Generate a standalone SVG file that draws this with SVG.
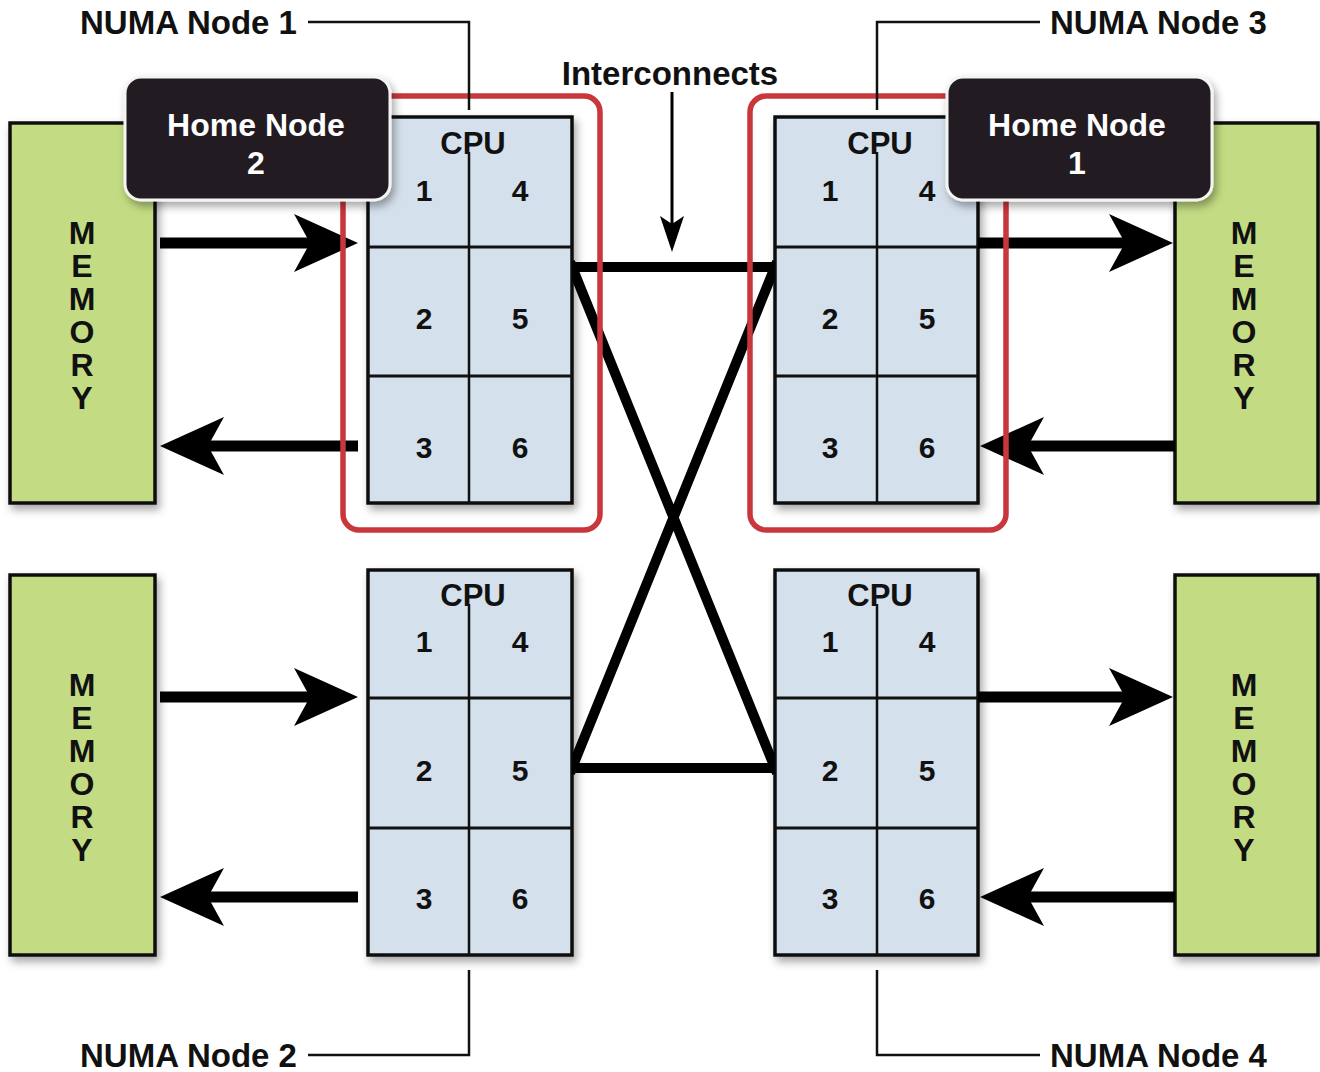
<svg xmlns="http://www.w3.org/2000/svg" width="1320" height="1072" viewBox="0 0 1320 1072">
  <defs>
    <filter id="shadow" x="-10%" y="-10%" width="130%" height="130%">
      <feDropShadow dx="3" dy="5" stdDeviation="4" flood-color="#000" flood-opacity="0.35"/>
    </filter>
    <marker id="bigHead" viewBox="0 0 64 58" refX="44" refY="29" markerWidth="64" markerHeight="58" markerUnits="userSpaceOnUse" orient="auto">
      <path d="M0,0 L64,29 L0,58 L16,29 Z" fill="#000"/>
    </marker>
    <marker id="smallHead" viewBox="0 0 36 24" refX="30" refY="12" markerWidth="36" markerHeight="24" markerUnits="userSpaceOnUse" orient="auto">
      <path d="M0,0 L36,12 L0,24 L8,12 Z" fill="#000"/>
    </marker>
    <!-- keeps the interconnect bundle between the two socket columns -->
    <clipPath id="betweenSockets">
      <rect x="572" y="200" width="203" height="640"/>
    </clipPath>
  </defs>
  <style>
    text { font-family: "Liberation Sans", Arial, sans-serif; font-weight: bold; fill: #111; }
    .mem { fill: #c3dc83; stroke: #111; stroke-width: 3.5; filter: url(#shadow); }
    .cpu { fill: #d4e0ec; stroke: #111; stroke-width: 3.5; filter: url(#shadow); }
    .div { stroke: #111; stroke-width: 3; fill: none; }
    .vdiv { stroke: #111; stroke-width: 2.5; fill: none; }
    .memtxt { font-size: 32px; text-anchor: middle; }
    .cputxt { font-size: 31px; text-anchor: middle; }
    .num { font-size: 30px; text-anchor: middle; }
    .flow { stroke: #000; stroke-width: 11; fill: none; marker-end: url(#bigHead); }
    .link { stroke: #000; stroke-width: 10; fill: none; }
    .home { fill: #231f20; stroke: #f4f4f4; stroke-width: 3; filter: url(#shadow); }
    .hometxt { font-size: 32px; fill: #fff; text-anchor: middle; }
    .region { fill: none; stroke: #c9363b; stroke-width: 5.5; }
    .callout { stroke: #111; stroke-width: 2.5; fill: none; }
    .label { font-size: 33px; }
  </style>

  <rect width="1320" height="1072" fill="#fff"/>

  <!-- Memory banks -->
  <g id="memory-tl">
    <rect class="mem" x="10" y="123" width="145" height="380"/>
    <text class="memtxt"><tspan x="82" y="244">M</tspan><tspan x="82" y="277">E</tspan><tspan x="82" y="310">M</tspan><tspan x="82" y="343">O</tspan><tspan x="82" y="376">R</tspan><tspan x="82" y="409">Y</tspan></text>
  </g>
  <g id="memory-bl">
    <rect class="mem" x="10" y="575" width="145" height="380"/>
    <text class="memtxt"><tspan x="82" y="696">M</tspan><tspan x="82" y="729">E</tspan><tspan x="82" y="762">M</tspan><tspan x="82" y="795">O</tspan><tspan x="82" y="828">R</tspan><tspan x="82" y="861">Y</tspan></text>
  </g>
  <g id="memory-tr">
    <rect class="mem" x="1175" y="123" width="143" height="380"/>
    <text class="memtxt"><tspan x="1244" y="244">M</tspan><tspan x="1244" y="277">E</tspan><tspan x="1244" y="310">M</tspan><tspan x="1244" y="343">O</tspan><tspan x="1244" y="376">R</tspan><tspan x="1244" y="409">Y</tspan></text>
  </g>
  <g id="memory-br">
    <rect class="mem" x="1175" y="575" width="143" height="380"/>
    <text class="memtxt"><tspan x="1244" y="696">M</tspan><tspan x="1244" y="729">E</tspan><tspan x="1244" y="762">M</tspan><tspan x="1244" y="795">O</tspan><tspan x="1244" y="828">R</tspan><tspan x="1244" y="861">Y</tspan></text>
  </g>

  <!-- CPU sockets -->
  <g id="cpu-node1">
    <rect class="cpu" x="368" y="117" width="204" height="386"/>
    <path class="div" d="M368,247 H572 M368,376 H572"/>
    <path class="vdiv" d="M469,152 V503"/>
    <text class="cputxt" x="473" y="154">CPU</text>
    <text class="num" x="424" y="201">1</text><text class="num" x="520" y="201">4</text>
    <text class="num" x="424" y="329">2</text><text class="num" x="520" y="329">5</text>
    <text class="num" x="424" y="458">3</text><text class="num" x="520" y="458">6</text>
  </g>
  <g id="cpu-node2">
    <rect class="cpu" x="368" y="570" width="204" height="385"/>
    <path class="div" d="M368,698 H572 M368,828 H572"/>
    <path class="vdiv" d="M469,604 V955"/>
    <text class="cputxt" x="473" y="606">CPU</text>
    <text class="num" x="424" y="652">1</text><text class="num" x="520" y="652">4</text>
    <text class="num" x="424" y="781">2</text><text class="num" x="520" y="781">5</text>
    <text class="num" x="424" y="909">3</text><text class="num" x="520" y="909">6</text>
  </g>
  <g id="cpu-node3">
    <rect class="cpu" x="775" y="117" width="203" height="386"/>
    <path class="div" d="M775,247 H978 M775,376 H978"/>
    <path class="vdiv" d="M877,152 V503"/>
    <text class="cputxt" x="880" y="154">CPU</text>
    <text class="num" x="830" y="201">1</text><text class="num" x="927" y="201">4</text>
    <text class="num" x="830" y="329">2</text><text class="num" x="927" y="329">5</text>
    <text class="num" x="830" y="458">3</text><text class="num" x="927" y="458">6</text>
  </g>
  <g id="cpu-node4">
    <rect class="cpu" x="775" y="570" width="203" height="385"/>
    <path class="div" d="M775,698 H978 M775,828 H978"/>
    <path class="vdiv" d="M877,604 V955"/>
    <text class="cputxt" x="880" y="606">CPU</text>
    <text class="num" x="830" y="652">1</text><text class="num" x="927" y="652">4</text>
    <text class="num" x="830" y="781">2</text><text class="num" x="927" y="781">5</text>
    <text class="num" x="830" y="909">3</text><text class="num" x="927" y="909">6</text>
  </g>

  <!-- Connectors: memory traffic and socket interconnects -->
  <g id="connectors">
    <path class="flow" d="M160,243 H338"/>
    <path class="flow" d="M358,446 H180"/>
    <path class="flow" d="M160,697 H338"/>
    <path class="flow" d="M358,897 H180"/>
    <path class="flow" d="M978,243 H1153"/>
    <path class="flow" d="M1175,446 H1000"/>
    <path class="flow" d="M978,697 H1153"/>
    <path class="flow" d="M1175,897 H1000"/>
    <g clip-path="url(#betweenSockets)">
      <path class="link" d="M560,267 H787 M560,768 H787"/>
      <path class="link" d="M570,262 L777,773 M777,262 L570,773"/>
    </g>
    <path d="M672,92 V246" stroke="#000" stroke-width="3" fill="none" marker-end="url(#smallHead)"/>
  </g>

  <!-- Home node regions -->
  <g id="region-home2">
    <rect class="region" x="343" y="96" width="257" height="434" rx="16"/>
  </g>
  <g id="region-home1">
    <rect class="region" x="750" y="96" width="256" height="434" rx="16"/>
  </g>

  <g id="home-node-2">
    <rect class="home" x="125" y="77" width="265" height="123" rx="16"/>
    <text class="hometxt" x="256" y="136">Home Node</text>
    <text class="hometxt" x="256" y="174">2</text>
  </g>
  <g id="home-node-1">
    <rect class="home" x="947" y="77" width="265" height="123" rx="16"/>
    <text class="hometxt" x="1077" y="136">Home Node</text>
    <text class="hometxt" x="1077" y="174">1</text>
  </g>

  <!-- Callout labels -->
  <g id="label-numa1">
    <path class="callout" d="M308,22 H469 V110"/>
    <text class="label" x="80" y="34">NUMA Node 1</text>
  </g>
  <g id="label-numa3">
    <path class="callout" d="M1040,22 H877 V110"/>
    <text class="label" x="1050" y="34">NUMA Node 3</text>
  </g>
  <g id="label-numa2">
    <path class="callout" d="M308,1055 H469 V970"/>
    <text class="label" x="80" y="1067">NUMA Node 2</text>
  </g>
  <g id="label-numa4">
    <path class="callout" d="M1040,1055 H877 V970"/>
    <text class="label" x="1050" y="1067">NUMA Node 4</text>
  </g>
  <g id="label-interconnects">
    <text class="label" x="670" y="85" text-anchor="middle">Interconnects</text>
  </g>
</svg>
